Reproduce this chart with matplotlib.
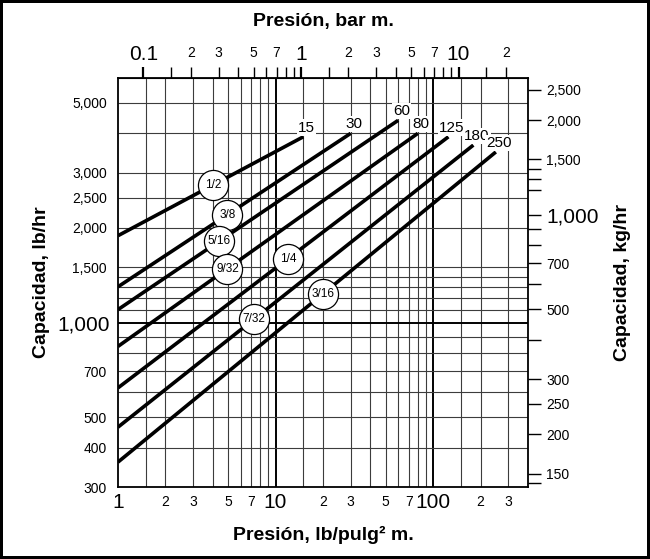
import matplotlib.pyplot as plt
import numpy as np

plt.rcParams['font.family'] = ['Liberation Sans', 'DejaVu Sans']

# line data (lb/hr at 1 psi and at the max pressure of each line)
sizes = ['1/2', '3/8', '5/16', '9/32', '1/4', '7/32', '3/16']
p_max = [15, 30, 60, 80, 125, 180, 250]
cap_start = [1890, 1300, 1100, 840, 620, 465, 360]
cap_end = [3900, 4000, 4400, 4000, 3900, 3670, 3490]
label_psi = [4.03, 4.95, 4.38, 4.95, 11.96, 7.29, 19.9]

# grid positions
psi_grid = [1.5, 2, 3, 4, 5, 6, 7, 8, 9, 15, 20, 30, 40, 50, 60, 70, 80, 90, 150, 200, 300]
psi_grid_major = [10, 100]
lb_grid = [400, 500, 600, 700, 800, 900, 1100, 1200, 1300, 1400, 1500, 2000, 2500, 3000, 4000, 5000]
lb_grid_major = [1000]

# tick labels
psi_big = [1, 10, 100]
psi_small = [2, 3, 5, 7, 20, 30, 50, 70, 200, 300]
lb_big = [1000]
lb_small = [300, 400, 500, 700, 1500, 2000, 2500, 3000, 5000]
bar_big = [0.1, 1, 10]
bar_small = [0.2, 0.3, 0.5, 0.7, 2, 3, 5, 7, 20]
bar_ticks = [0.15, 0.4, 0.6, 0.8, 0.9, 1.5, 4, 6, 8, 9, 15]
kg_labels = [150, 200, 250, 300, 500, 700, 1500, 2000, 2500]
kg_big = [1000]
kg_ticks = [140, 400, 600, 800, 900, 1200, 1300, 1400]

PSI_PER_BAR = 14.5
KG_PER_LB = 0.4536

fig = plt.figure(figsize=(6.5, 5.59), dpi=100, edgecolor='k', linewidth=3)
ax = fig.add_axes([0.1815, 0.1288, 0.6308, 0.7317])
ax.set_xscale('log')
ax.set_yscale('log')
ax.set_xlim(1, 400)
ax.set_ylim(300, 6000)

ax.vlines(psi_grid, 300, 6000, color='#3c3c3c', lw=0.8, zorder=1)
ax.vlines(psi_grid_major, 300, 6000, color='k', lw=1.4, zorder=1)
ax.hlines(lb_grid, 1, 400, color='#3c3c3c', lw=0.8, zorder=1)
ax.hlines(lb_grid_major, 1, 400, color='k', lw=1.4, zorder=1)

def fmt(v):
    return '{:,}'.format(v)

big = 15
small = 10

ax.xaxis.set_major_locator(plt.FixedLocator(psi_big))
ax.xaxis.set_minor_locator(plt.FixedLocator(psi_small))
ax.xaxis.set_major_formatter(plt.FixedFormatter([str(v) for v in psi_big]))
ax.xaxis.set_minor_formatter(plt.FixedFormatter([str(v)[0] for v in psi_small]))
ax.yaxis.set_major_locator(plt.FixedLocator(lb_big))
ax.yaxis.set_minor_locator(plt.FixedLocator(lb_small))
ax.yaxis.set_major_formatter(plt.FixedFormatter([fmt(v) for v in lb_big]))
ax.yaxis.set_minor_formatter(plt.FixedFormatter([fmt(v) for v in lb_small]))
ax.tick_params(axis='x', which='major', length=0, labelsize=big, pad=4)
ax.tick_params(axis='x', which='minor', length=0, labelsize=small, pad=6)
ax.tick_params(axis='y', which='major', length=0, labelsize=big, pad=6)
ax.tick_params(axis='y', which='minor', length=0, labelsize=small, pad=8)

for sp in ax.spines.values():
    sp.set_linewidth(1.3)

# top axis in bar
top = ax.secondary_xaxis('top', functions=(lambda x: x / PSI_PER_BAR, lambda b: b * PSI_PER_BAR))
top.xaxis.set_major_locator(plt.FixedLocator(bar_big))
top.xaxis.set_major_formatter(plt.FixedFormatter(['0.1', '1', '10']))
top.xaxis.set_minor_locator(plt.FixedLocator(bar_small + bar_ticks))
top.xaxis.set_minor_formatter(plt.FixedFormatter([str(v).replace('0.', '')[0] for v in bar_small] + [''] * len(bar_ticks)))
top.tick_params(which='major', length=8, width=1.6, labelsize=big, pad=2)
top.tick_params(which='minor', length=8, width=1, labelsize=small, pad=5)

# right axis in kg/hr
right = ax.twinx()
right.set_yscale('log')
right.set_ylim(300 * KG_PER_LB, 6000 * KG_PER_LB)
right.yaxis.set_major_locator(plt.FixedLocator(kg_big + kg_labels))
right.yaxis.set_major_formatter(plt.FixedFormatter([fmt(v) for v in kg_big + kg_labels]))
right.yaxis.set_minor_locator(plt.FixedLocator(kg_ticks))
right.yaxis.set_minor_formatter(plt.NullFormatter())
right.tick_params(which='both', length=9, width=1, labelsize=small, pad=4)
for lbl in right.get_yticklabels():
    if lbl.get_text() == '1,000':
        lbl.set_fontsize(big)
for sp in right.spines.values():
    sp.set_visible(False)

# capacity lines
for s, pm, c0, c1, lp in zip(sizes, p_max, cap_start, cap_end, label_psi):
    ax.plot([1, pm], [c0, c1], color='k', lw=2.6, solid_capstyle='butt', zorder=3)
    ax.annotate(str(pm), (pm, c1), xytext=(2.5, 1.5), textcoords='offset points',
                ha='center', va='bottom', fontsize=11, zorder=4,
                bbox=dict(boxstyle='square,pad=0.08', fc='white', ec='none'))
    ly = 10 ** np.interp(np.log10(lp), [0, np.log10(pm)], [np.log10(c0), np.log10(c1)])
    ax.scatter([lp], [ly], s=470, facecolor='white', edgecolor='k', linewidth=0.9, zorder=5)
    ax.text(lp, ly, s, ha='center', va='center', fontsize=8.5, zorder=6)

fig.text(0.497, 0.962, 'Presión, bar m.', ha='center', va='center', fontsize=14, fontweight='bold')
fig.text(0.497, 0.043, 'Presión, lb/pulg² m.', ha='center', va='center', fontsize=14, fontweight='bold')
fig.text(0.064, 0.495, 'Capacidad, lb/hr', ha='center', va='center', rotation=90, fontsize=14, fontweight='bold')
fig.text(0.958, 0.495, 'Capacidad, kg/hr', ha='center', va='center', rotation=90, fontsize=14, fontweight='bold')

fig.savefig('out.png', dpi=100, edgecolor=fig.get_edgecolor())
